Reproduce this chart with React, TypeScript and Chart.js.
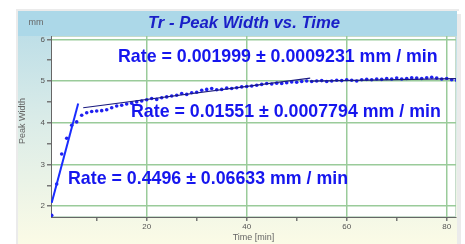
import React, { useEffect, useRef } from "react";
import { Chart, registerables } from "chart.js";

Chart.register(...registerables);

const titleText = "Tr - Peak Width vs. Time";
const xAxisTitle = "Time [min]";
const yAxisTitle = "Peak Width";
const yUnit = "mm";

const timeMin = [
  1, 2, 3, 4, 5, 6, 7, 8, 9, 10, 11, 12, 13, 14, 15, 16, 17, 18, 19, 20,
  21, 22, 23, 24, 25, 26, 27, 28, 29, 30, 31, 32, 33, 34, 35, 36, 37, 38, 39, 40,
  41, 42, 43, 44, 45, 46, 47, 48, 49, 50, 51, 52, 53, 54, 55, 56, 57, 58, 59, 60,
  61, 62, 63, 64, 65, 66, 67, 68, 69, 70, 71, 72, 73, 74, 75, 76, 77, 78, 79, 80,
  81, 82,
];
const peakWidth = [
  1.78, 2.53, 3.25, 3.63, 3.94, 4.02, 4.18, 4.24, 4.27, 4.28, 4.29, 4.31, 4.36, 4.4, 4.42, 4.45, 4.47, 4.5, 4.52, 4.55,
  4.58, 4.56, 4.6, 4.62, 4.64, 4.66, 4.7, 4.68, 4.72, 4.73, 4.78, 4.8, 4.82, 4.79, 4.8, 4.83, 4.82, 4.84, 4.86, 4.87,
  4.88, 4.9, 4.92, 4.94, 4.93, 4.95, 4.94, 4.96, 4.98, 4.97, 4.99, 5.0, 4.99, 5.0, 5.01, 4.99, 5.0, 5.02, 5.01, 5.03,
  5.02, 5.0, 5.03, 5.04, 5.03, 5.05, 5.04, 5.06, 5.05, 5.07, 5.05, 5.06, 5.08, 5.07, 5.06, 5.08, 5.09, 5.07, 5.05, 5.06,
  5.03, 5.02,
];

const fit1X = [1, 6.3];
const fit1Y = [2.08, 4.46];
const fit2X = [7.3, 52.7];
const fit2Y = [4.36, 5.07];
const fit3X = [52.7, 82];
const fit3Y = [5.0, 5.06];

const rateLabels = [
  "Rate = 0.001999 ± 0.0009231 mm / min",
  "Rate = 0.01551 ± 0.0007794 mm / min",
  "Rate = 0.4496 ± 0.06633 mm / min",
];
// anchor (left, vertical middle) in data coordinates
const rateLabelX = [14.26, 16.86, 4.26];
const rateLabelY = [5.57, 4.25, 2.66];

const xTickLabels = [20, 40, 60, 80];
const yTickLabels = [2, 3, 4, 5, 6];

const GREEN = "#9acb9a";
const FONT = "'Liberation Sans', Arial, sans-serif";

const panelPlugin = {
  id: "panel",
  beforeDraw(chart: any) {
    const { ctx, chartArea } = chart;
    const px0 = 18, py0 = 11, px1 = 457, py1 = 244;
    ctx.save();
    // shadow
    ctx.fillStyle = "rgba(0,0,0,0.08)";
    ctx.fillRect(px1, py0 + 3, 4, py1 - py0);
    ctx.fillRect(px0 - 2, py0 - 2, px1 - px0 + 4, 2);
    ctx.fillRect(px0 - 2, py0, 2, py1 - py0);
    const g = ctx.createLinearGradient(0, py0, 0, py1);
    g.addColorStop(0, "#b6dbe7");
    g.addColorStop(0.45, "#d9ebe8");
    g.addColorStop(1, "#fbfbe6");
    ctx.fillStyle = g;
    ctx.fillRect(px0, py0, px1 - px0, py1 - py0);
    // title bar
    ctx.fillStyle = "#acd8e8";
    ctx.fillRect(px0, py0, px1 - px0, 25);
    // plot bg
    ctx.fillStyle = "#ffffff";
    ctx.fillRect(chartArea.left, chartArea.top, chartArea.right - chartArea.left, chartArea.bottom - chartArea.top);
    ctx.strokeStyle = "#c6dccb";
    ctx.lineWidth = 1;
    ctx.strokeRect(chartArea.left + 0.5, chartArea.top + 0.5, chartArea.right - chartArea.left - 1, chartArea.bottom - chartArea.top - 1);
    // title
    ctx.fillStyle = "#1a20c8";
    ctx.font = `italic bold 16.7px ${FONT}`;
    ctx.textAlign = "center";
    ctx.textBaseline = "middle";
    ctx.fillText(titleText, 244, 23);
    // axis titles
    ctx.fillStyle = "#666";
    ctx.font = `9px ${FONT}`;
    ctx.fillText(yUnit, 36, 23);
    ctx.fillText(xAxisTitle, (chartArea.left + chartArea.right) / 2, 238);
    ctx.translate(23, 121);
    ctx.rotate(-Math.PI / 2);
    ctx.fillText(yAxisTitle, 0, 0);
    ctx.restore();
  },
  afterDatasetsDraw(chart: any) {
    const { ctx, scales } = chart;
    ctx.save();
    ctx.fillStyle = "#1616ee";
    ctx.font = `bold 17.8px ${FONT}`;
    ctx.textAlign = "left";
    ctx.textBaseline = "middle";
    rateLabels.forEach((t, i) => {
      ctx.fillText(t, scales.x.getPixelForValue(rateLabelX[i]), scales.y.getPixelForValue(rateLabelY[i]));
    });
    ctx.restore();
  },
};

export default function App() {
  const ref = useRef<HTMLCanvasElement>(null);
  useEffect(() => {
    if (!ref.current) return;
    const pts = timeMin.map((x, i) => ({ x, y: peakWidth[i] }));
    const mk = (xs: number[], ys: number[]) => xs.map((x, i) => ({ x, y: ys[i] }));
    const chart = new Chart(ref.current, {
      type: "scatter",
      data: {
        datasets: [
          {
            data: mk(fit1X, fit1Y),
            showLine: true,
            borderColor: "#1a2cff",
            borderWidth: 2,
            pointRadius: 0,
          },
          {
            data: mk(fit2X, fit2Y),
            showLine: true,
            borderColor: "#1a1a80",
            borderWidth: 1.2,
            pointRadius: 0,
          },
          {
            data: mk(fit3X, fit3Y),
            showLine: true,
            borderColor: "#1a1a80",
            borderWidth: 1.2,
            pointRadius: 0,
          },
          {
            data: pts,
            showLine: false,
            backgroundColor: "#2020f0",
            borderColor: "#2020f0",
            pointRadius: 1.8,
            borderWidth: 0,
          },
        ],
      },
      options: {
        animation: false,
        responsive: true,
        maintainAspectRatio: false,
        layout: { padding: { left: 0, top: 36, right: 9, bottom: 0 } },
        plugins: { legend: { display: false }, title: { display: false }, tooltip: { enabled: false } },
        scales: {
          x: {
            type: "linear",
            min: 0.86,
            max: 81.86,
            afterFit: (s: any) => { s.height = 27; },
            ticks: {
              stepSize: 10,
              includeBounds: false,
              autoSkip: false,
              maxRotation: 0,
              padding: 1,
              color: "#555",
              font: { size: 8, family: FONT },
              callback: (v: any) => (xTickLabels.includes(Number(v)) ? String(v) : ""),
            },
            grid: {
              color: (c: any) => (xTickLabels.includes(c.tick?.value) ? GREEN : "transparent"),
              lineWidth: 1.5,
              tickLength: 4,
              tickColor: "#777",
              drawTicks: true,
            },
            border: { color: "#666", width: 1 },
          },
          y: {
            type: "linear",
            min: 1.74,
            max: 6.08,
            afterFit: (s: any) => { s.width = 51; },
            ticks: {
              stepSize: 0.5,
              includeBounds: false,
              autoSkip: false,
              padding: 2,
              color: "#555",
              font: { size: 8, family: FONT },
              callback: (v: any) => (yTickLabels.includes(Number(v)) ? String(v) : ""),
            },
            grid: {
              color: (c: any) => (yTickLabels.includes(c.tick?.value) ? GREEN : "transparent"),
              lineWidth: 1.5,
              tickLength: 4,
              tickColor: "#777",
              drawTicks: true,
            },
            border: { color: "#666", width: 1 },
          },
        },
      },
      plugins: [panelPlugin],
    });
    return () => chart.destroy();
  }, []);
  return (
    <div style={{ position: "fixed", left: 0, top: 0, width: 465, height: 244, background: "#fff" }}>
      <canvas ref={ref} />
    </div>
  );
}
